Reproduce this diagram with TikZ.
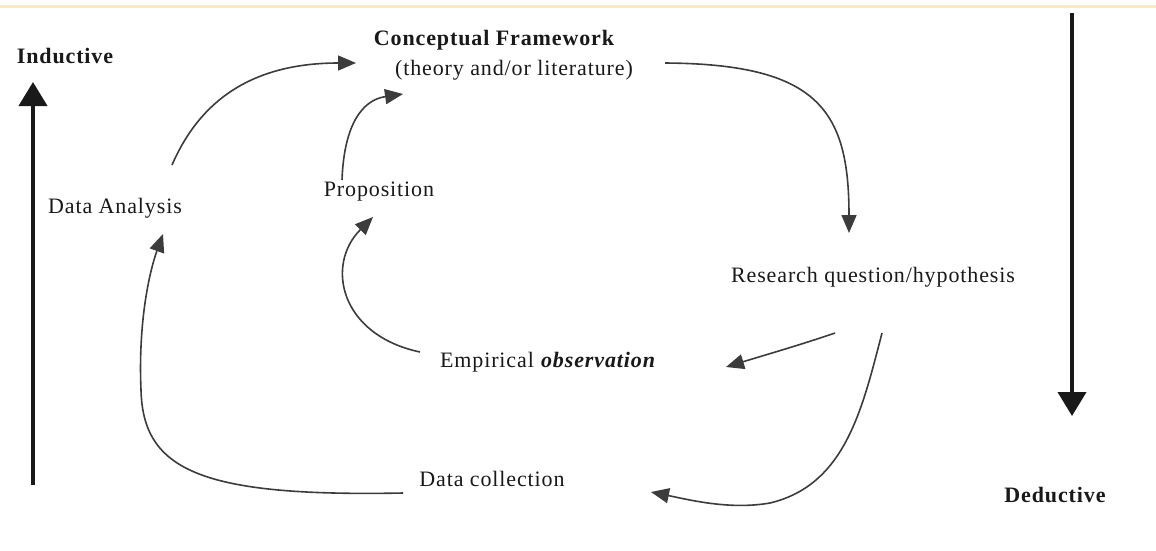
\documentclass[tikz,border=0pt]{standalone}
\usepackage{fontspec}
\setmainfont[LetterSpace=4]{Liberation Serif}
\usetikzlibrary{arrows.meta}
\definecolor{topband}{RGB}{252,232,196}
\definecolor{ink}{RGB}{25,25,25}
\definecolor{flow}{RGB}{60,60,60}
\begin{document}
\begin{tikzpicture}[x=1pt,y=-1pt,
  label/.style={inner sep=0pt,text=ink,font=\fontsize{22}{26}\selectfont},
  boldlabel/.style={label,font=\fontsize{22}{26}\selectfont\bfseries},
  flowarrow/.style={draw=flow,line width=1.6pt,-{Triangle[length=18pt,width=15pt]}},
  trend/.style={draw=ink,line width=4pt,-{Triangle[length=24pt,width=28pt]}}]
  \useasboundingbox (0,0) rectangle (1156,550);
  \fill[white] (0,0) rectangle (1156,550);
  % thin coloured rule along the top edge
  \draw[topband,line width=3pt] (0,6) -- (1156,6);

  % labels
  \node[boldlabel] (ind) at (65,56) {Inductive};
  \node[boldlabel] (ded) at (1055,495) {Deductive};
  \node[boldlabel] (cf) at (494,40) {Conceptual Framework};
  \node[label] (cfsub) at (514,70) {(theory and/or literature)};
  \node[label] (prop) at (379,192) {Proposition};
  \node[label] (ana) at (115,208) {Data Analysis};
  \node[label] (rq) at (873,277) {Research question/hypothesis};
  \node[label] (emp) at (548,362) {Empirical \textbf{\textit{observation}}};
  \node[label] (coll) at (492,479) {Data collection};

  % end points of the cycle arrows
  \coordinate (anaOut) at (172,165);
  \coordinate (cfInA) at (356,63);
  \coordinate (propOut) at (342,180);
  \coordinate (cfInB) at (403,94);
  \coordinate (cfOut) at (665,63);
  \coordinate (rqIn) at (849,233);
  \coordinate (rqOutA) at (835,333);
  \coordinate (empIn) at (726,367);
  \coordinate (rqOutB) at (882,333);
  \coordinate (collIn) at (651,492);
  \coordinate (empOut) at (420,352);
  \coordinate (propIn) at (373,217);
  \coordinate (collOut) at (403,493);
  \coordinate (anaIn) at (163,234);

  % inductive / deductive direction arrows
  \coordinate (indBase) at (33,485);
  \coordinate (indTip) at (33,82);
  \coordinate (dedBase) at (1072,13);
  \coordinate (dedTip) at (1072,416);
  \draw[trend] (indBase) -- (indTip);
  \draw[trend] (dedBase) -- (dedTip);

  % cycle arrows
  \draw[flowarrow] (anaOut) .. controls (195,112) and (240,63) .. (cfInA);
  \draw[flowarrow] (propOut) .. controls (344,125) and (362,100) .. (cfInB);
  \draw[flowarrow] (cfOut) .. controls (818,64) and (849,110) .. (rqIn);
  \draw[flowarrow] (rqOutA) .. controls (800,345) and (765,355) .. (empIn);
  \draw[flowarrow] (rqOutB) .. controls (862,410) and (845,485) .. (770,503)
                   .. controls (730,510) and (690,500) .. (collIn);
  \draw[flowarrow] (empOut) .. controls (340,335) and (325,265) .. (propIn);
  \draw[flowarrow] (collOut) .. controls (200,497) and (143,470) .. (141,390)
                   .. controls (138,320) and (150,270) .. (anaIn);
\end{tikzpicture}
\end{document}
